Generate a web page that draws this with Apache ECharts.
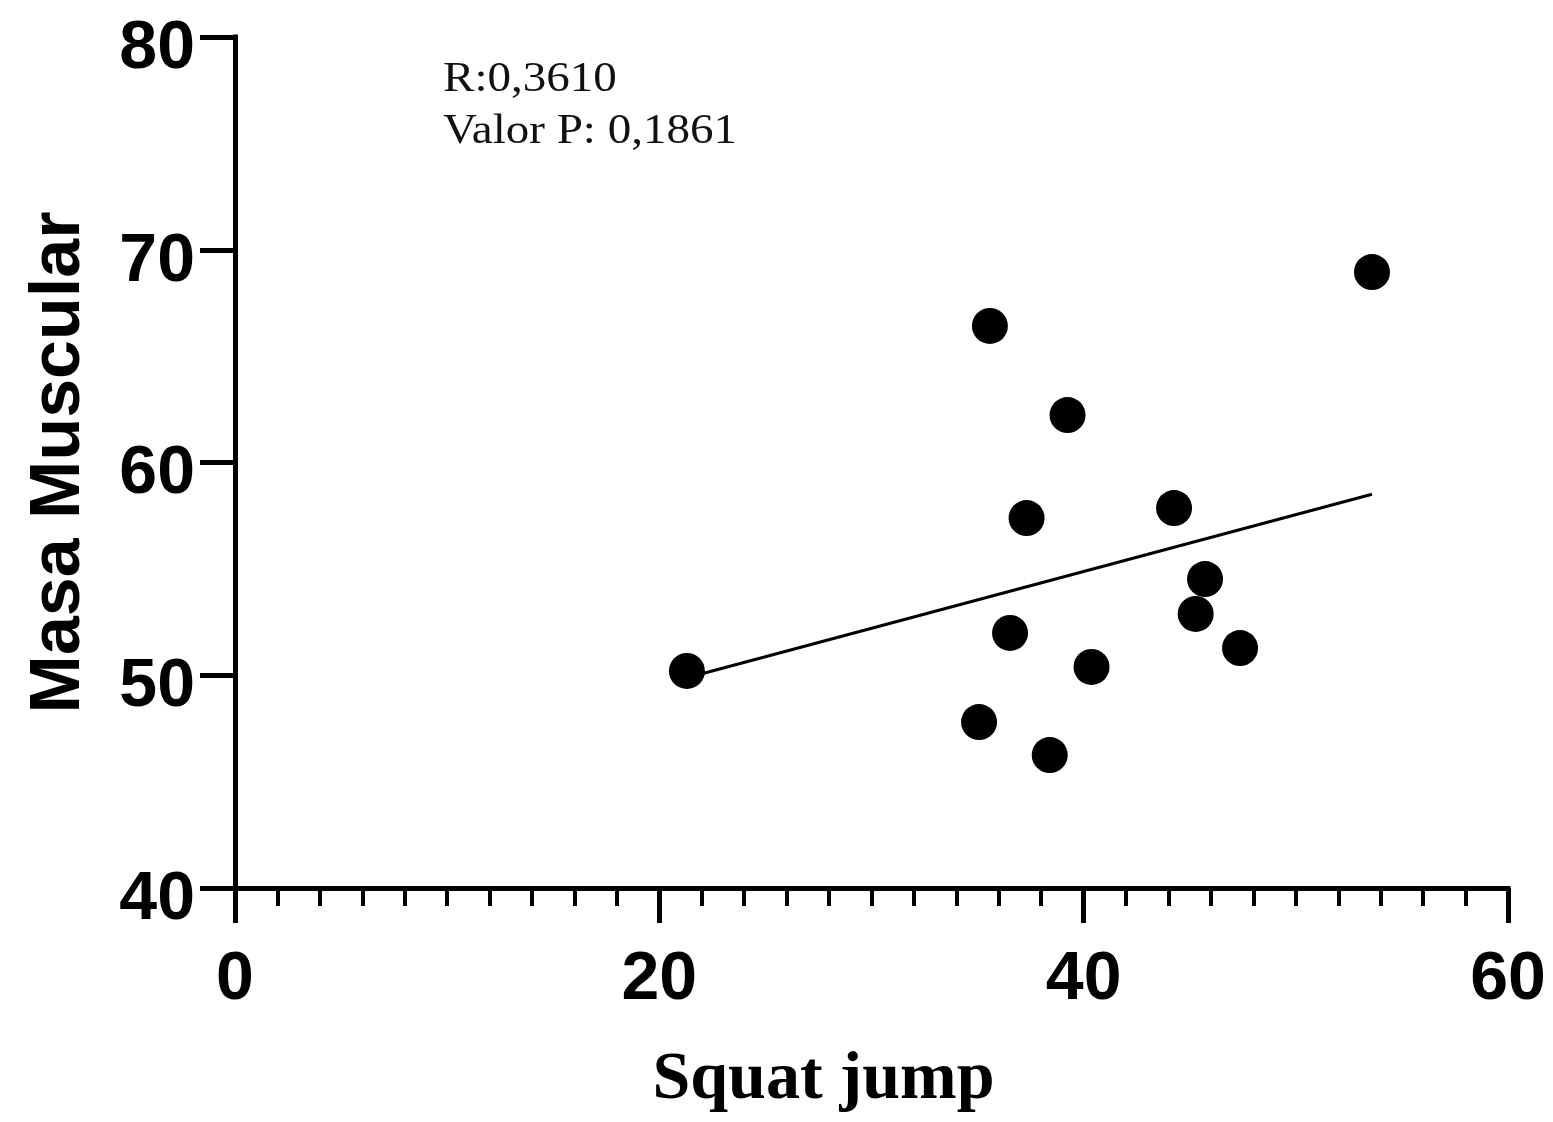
<!DOCTYPE html>
<html>
<head>
<meta charset="utf-8">
<title>Squat jump vs Masa Muscular</title>
<script src="https://cdn.jsdelivr.net/npm/echarts@6/dist/echarts.min.js"></script>
<style>
  html, body { margin: 0; padding: 0; background: #fff; }
  #chart { width: 1553px; height: 1122px; }
</style>
</head>
<body>
<div id="chart"></div>
<script>
// datos
const squatJump = [21.3, 35.58, 39.24, 37.31, 44.26, 45.72, 45.28, 36.53, 40.37, 47.37, 35.07, 38.4, 53.59]
const masaMuscular = [50.2, 66.42, 62.23, 57.39, 57.86, 54.52, 52.88, 51.99, 50.39, 51.28, 47.8, 46.25, 68.95]

// recta de regresión (extremos)
const fitX = [21.3, 53.59]
const fitY = [49.88, 58.51]

const statsText = ['R:0,3610', 'Valor P: 0,1861']

const points = squatJump.map((x, i) => [x, masaMuscular[i]])
const fitLine = fitX.map((x, i) => [x, fitY[i]])

const chart = echarts.init(document.getElementById('chart'))

const axisFont = {
  fontFamily: 'Liberation Sans, Arial, sans-serif',
  fontWeight: 'bold',
  fontSize: 68,
  color: '#000'
}

const option = {
  animation: false,
  backgroundColor: '#fff',
  grid: { left: 235, right: 45, top: 37, bottom: 234, containLabel: false },
  xAxis: {
    type: 'value',
    min: 0,
    max: 60,
    interval: 20,
    name: 'Squat jump',
    nameLocation: 'middle',
    nameGap: 158,
    nameTextStyle: {
      fontFamily: 'Liberation Serif, Times New Roman, serif',
      fontWeight: 'bold',
      fontSize: 68,
      color: '#000',
      padding: [0, 96, 0, 0]
    },
    axisLine: { onZero: false, lineStyle: { color: '#000', width: 5, cap: 'square' } },
    axisTick: { length: 35, lineStyle: { color: '#000', width: 5 } },
    minorTick: { show: true, splitNumber: 10, length: 18, lineStyle: { color: '#000', width: 4 } },
    axisLabel: Object.assign({ margin: 58 }, axisFont),
    splitLine: { show: false }
  },
  yAxis: {
    type: 'value',
    min: 40,
    max: 80,
    interval: 10,
    name: 'Masa Muscular',
    nameLocation: 'middle',
    nameGap: 140,
    nameTextStyle: {
      fontFamily: 'Liberation Sans, Arial, sans-serif',
      fontWeight: 'bold',
      fontSize: 70,
      color: '#000'
    },
    axisLine: { onZero: false, lineStyle: { color: '#000', width: 5, cap: 'square' } },
    axisTick: { length: 35, lineStyle: { color: '#000', width: 5 } },
    // etiquetas algo por debajo de la marca, como en el original
    axisLabel: Object.assign({ margin: 40, verticalAlign: 'top', lineHeight: 24 }, axisFont),
    splitLine: { show: false }
  },
  graphic: [
    {
      type: 'text',
      left: 443,
      top: 54,
      scaleX: 1.12,
      style: {
        text: statsText.join('\n'),
        fontFamily: 'Liberation Serif, Times New Roman, serif',
        fontSize: 42,
        lineHeight: 52,
        fill: '#111'
      }
    }
  ],
  series: [
    {
      name: 'Regresión',
      type: 'line',
      data: fitLine,
      showSymbol: false,
      lineStyle: { color: '#000', width: 3 },
      z: 2
    },
    {
      name: 'Datos',
      type: 'scatter',
      data: points,
      symbol: 'circle',
      symbolSize: 36,
      itemStyle: { color: '#000', opacity: 1 },
      z: 3
    }
  ]
}

chart.setOption(option)
</script>
</body>
</html>
